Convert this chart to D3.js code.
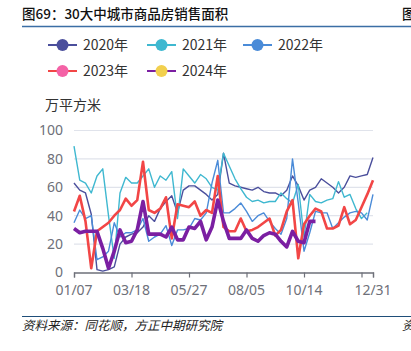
<!DOCTYPE html>
<html>
<head>
<meta charset="utf-8">
<script src="https://cdn.jsdelivr.net/npm/d3@7"></script>
<style>
  body { margin: 0; background: #fff; }
  svg { display: block; font-family: 'Noto Sans CJK SC', 'Noto Sans', sans-serif; }
</style>
</head>
<body>
<div id="chart"></div>
<script>
// weekly values, index 0 = 01/07
let s2020 = [63,58,56,41,2,1,2,4,20,25,27,28,32,40,36,45,50,54,42,58,61,61,58,55,51,55,84,63,61,60,59,58,60,57,56,56,54,58,68,61,51,58,60,66,63,60,56,60,68,67,68,69,81]
let s2021 = [89,65,63,56,68,73,40,10,56,67,63,63,68,73,60,68,65,71,38,73,68,63,69,66,60,58,84,75,66,59,53,50,51,49,50,50,56,52,49,62,25,55,50,49,51,52,64,53,55,45,38,42,null]
let s2022 = [35,44,38,40,9,11,15,35,25,28,28,30,38,22,25,27,33,19,30,30,31,38,37,42,63,79,42,42,45,49,43,36,40,42,36,31,27,38,80,49,15,28,43,42,42,31,35,39,42,43,42,37,55]
let s2023 = [43,54,36,3,29,32,35,40,44,52,47,51,78,44,42,45,53,24,48,47,46,50,40,44,42,68,32,29,29,38,29,30,32,35,38,26,30,43,51,10,34,40,45,43,31,31,33,46,34,37,46,55,65]
let s2024 = [31,28,29,29,29,17,3,15,30,21,22,30,50,27,27,27,25,32,23,23,32,31,36,23,32,51,36,24,24,24,30,24,22,26,28,27,22,18,29,22,21,36,36]

let seriesNames = ['2020年', '2021年', '2022年', '2023年', '2024年']
let lineColors = ['#4b4f9c', '#3fb8d0', '#4a8bd8', '#f24646', '#7b1fa2']
let dotColors = ['#4b4f9c', '#3fb8d0', '#4a8bd8', '#f462a6', '#f2d04e']
let lineWidths = [1.4, 1.4, 1.4, 2.6, 3.6]

let xTickLabels = ['01/07', '03/18', '05/27', '08/05', '10/14', '12/31']
let xTickIdx = [0, 10, 20, 30, 40, 52]
let xTickMarks = [0, 10, 20, 30, 40, 50, 52]
let yTicks = [0, 20, 40, 60, 80, 100]

let width = 411, height = 351

let svg = d3.select('#chart')
.append('svg')
.attr('width', width)
.attr('height', height)

// header / footer
svg.append('text')
.attr('x', 22).attr('y', 19)
.attr('font-size', 13.5)
.attr('font-weight', 500)
.attr('fill', '#111')
.text('图69：30大中城市商品房销售面积')

svg.append('text')
.attr('x', 402).attr('y', 19)
.attr('font-size', 13.5)
.attr('font-weight', 500)
.attr('fill', '#111')
.text('图')

svg.append('line')
.attr('x1', 22).attr('x2', 411)
.attr('y1', 26.5).attr('y2', 26.5)
.attr('stroke', '#3b6ea5')
.attr('stroke-width', 1.5)

svg.append('line')
.attr('x1', 22).attr('x2', 411)
.attr('y1', 316.5).attr('y2', 316.5)
.attr('stroke', '#1f4e79')
.attr('stroke-width', 1.2)

svg.append('text')
.attr('x', 22).attr('y', 330)
.attr('font-size', 12.5)
.attr('font-style', 'italic')
.attr('fill', '#222')
.text('资料来源：同花顺，方正中期研究院')

svg.append('text')
.attr('x', 402).attr('y', 330)
.attr('font-size', 12.5)
.attr('font-style', 'italic')
.attr('fill', '#222')
.text('资')

// legend
let legendPos = [[48, 45], [147, 45], [243, 45], [48, 71], [147, 71]]
let legend = svg.append('g')
.selectAll('g')
.data(seriesNames)
.join('g')
.attr('transform', (d, i) => `translate(${legendPos[i][0]}, ${legendPos[i][1]})`)

legend.append('line')
.attr('x1', 0).attr('x2', 29)
.attr('stroke', (d, i) => lineColors[i])
.attr('stroke-width', 2)

legend.append('circle')
.attr('cx', 14.5).attr('r', 6)
.attr('fill', (d, i) => dotColors[i])

legend.append('text')
.attr('x', 35).attr('y', 5)
.attr('font-size', 14)
.attr('fill', '#333')
.text(d => d)

// scales
let x = d3.scaleLinear().domain([0, 52]).range([74, 373])
let y = d3.scaleLinear().domain([0, 100]).range([272.5, 130.5])

svg.append('text')
.attr('x', 45).attr('y', 110)
.attr('font-size', 14)
.attr('fill', '#333')
.text('万平方米')

// grid
svg.append('g')
.selectAll('line')
.data(yTicks.slice(1))
.join('line')
.attr('x1', 74).attr('x2', 373)
.attr('y1', d => y(d)).attr('y2', d => y(d))
.attr('stroke', '#e0e3eb')
.attr('stroke-width', 1.2)

let yAxis = svg.append('g')
.attr('transform', 'translate(74,0)')
.call(d3.axisLeft(y).tickValues(yTicks).tickSize(0).tickPadding(11))
yAxis.select('.domain').remove()
yAxis.selectAll('text')
.attr('font-size', 14)
.attr('fill', '#6e7079')
.attr('font-family', "'Noto Sans', sans-serif")

let xAxis = svg.append('g')
.attr('transform', `translate(0,${y(0)})`)
.call(d3.axisBottom(x).tickValues(xTickMarks).tickSize(5).tickFormat(''))
xAxis.select('.domain').attr('stroke', '#6e7079').attr('stroke-width', 1.3)
xAxis.selectAll('.tick line').attr('stroke', '#6e7079').attr('stroke-width', 1.2)

svg.append('g')
.selectAll('text')
.data(xTickLabels)
.join('text')
.attr('x', (d, i) => x(xTickIdx[i]))
.attr('y', y(0) + 22)
.attr('text-anchor', 'middle')
.attr('font-size', 14)
.attr('fill', '#6e7079')
.attr('font-family', "'Noto Sans', sans-serif")
.text(d => d)

// lines
let allSeries = [s2020, s2021, s2022, s2023, s2024]

let line = d3.line()
.defined(d => d != null)
.x((d, i) => x(i))
.y(d => y(d))

svg.append('g')
.selectAll('path')
.data(allSeries)
.join('path')
.attr('d', d => line(d))
.attr('fill', 'none')
.attr('stroke', (d, i) => lineColors[i])
.attr('stroke-width', (d, i) => lineWidths[i])
.attr('stroke-linejoin', 'round')
</script>
</body>
</html>
